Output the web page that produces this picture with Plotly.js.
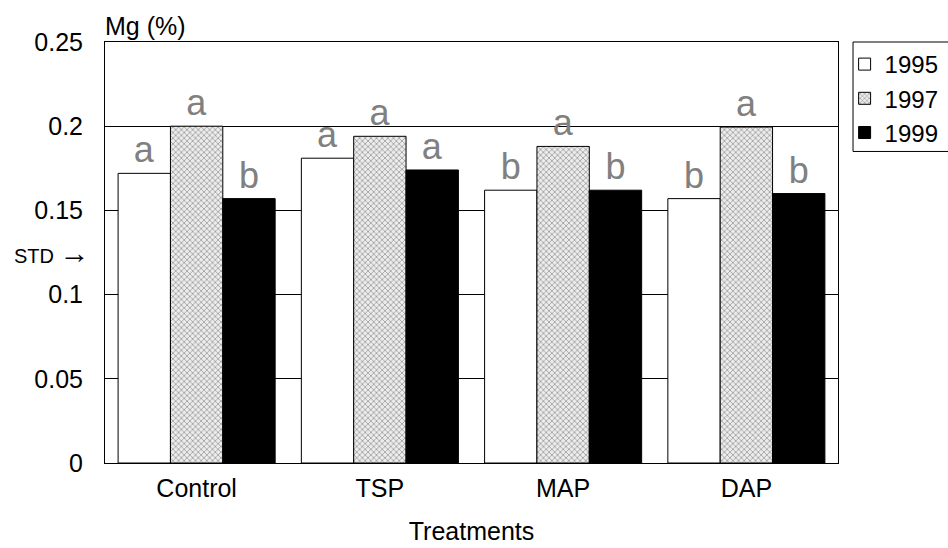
<!DOCTYPE html>
<html><head><meta charset="utf-8">
<script src="https://cdn.plot.ly/plotly-3.0.1.min.js"></script>
<style>body{margin:0;background:#fff}#chart{width:948px;height:548px}</style>
</head><body><div id="chart"></div>
<script>
const categories = ["Control", "TSP", "MAP", "DAP"];
const years = ["1995", "1997", "1999"];
const values1995 = [0.172, 0.181, 0.162, 0.157];
const values1997 = [0.200, 0.194, 0.188, 0.1995];
const values1999 = [0.157, 0.174, 0.162, 0.160];
const letters1995 = ["a", "a", "b", "b"];
const letters1997 = ["a", "a", "a", "a"];
const letters1999 = ["b", "a", "b", "b"];
const stdValue = 0.125;

const font = "Liberation Sans, Arial, sans-serif";
const common = {
  type: "bar", x: categories, textposition: "outside",
  textfont: {family: font, size: 36, color: "#808080"},
  cliponaxis: false, hoverinfo: "none"
};
const traces = [
  Object.assign({}, common, {name: years[0], y: values1995, text: letters1995,
    marker: {color: "#ffffff", line: {color: "#000", width: 1}}}),
  Object.assign({}, common, {name: years[1], y: values1997, text: letters1997,
    marker: {color: "#ffffff", line: {color: "#000", width: 1},
      pattern: {shape: "x", size: 4, solidity: 0.3, fgcolor: "#888888", bgcolor: "#ececec", fillmode: "replace"}}}),
  Object.assign({}, common, {name: years[2], y: values1999, text: letters1999,
    marker: {color: "#000000", line: {color: "#000", width: 1}}})
];
const layout = {
  width: 948, height: 548,
  margin: {l: 105, r: 110, t: 42, b: 85, autoexpand: false},
  paper_bgcolor: "#fff", plot_bgcolor: "#fff",
  font: {family: font, size: 25, color: "#000"},
  barmode: "group", bargap: 0.143, bargroupgap: 0,
  showlegend: true,
  legend: {x: 1.009, xanchor: "left", y: 1.0, yanchor: "top",
    borderwidth: 0, bgcolor: "rgba(0,0,0,0)", font: {size: 24},
    itemwidth: 30, tracegroupgap: 0},
  xaxis: {showline: true, linecolor: "#000", linewidth: 1, mirror: true, automargin: false,
    ticks: "", tickfont: {size: 25}, showgrid: false, ticklabelstandoff: 3,
    title: {text: "Treatments", font: {size: 25}, standoff: 21}},
  yaxis: {range: [0, 0.25], dtick: 0.05, tickformat: "", showline: true, automargin: false,
    linecolor: "#000", linewidth: 1, mirror: true, ticks: "",
    showgrid: true, gridcolor: "#000", gridwidth: 1, zeroline: false,
    tickfont: {size: 25}, ticklabelstandoff: 16},
  shapes: [
    {type: "rect", xref: "paper", yref: "paper", x0: 1.0205, x1: 1.2, y0: 0.74, y1: 1.0,
      line: {color: "#000", width: 1}, fillcolor: "rgba(0,0,0,0)", layer: "above"}
  ],
  annotations: [
    {text: "Mg (%)", xref: "paper", yref: "paper", x: 0, y: 1.0, xanchor: "left", yanchor: "bottom",
      xshift: -2, yshift: 0, showarrow: false, font: {size: 25}},
    {text: "STD <span style='font-size:30px'><b>\u2192</b></span>", xref: "paper", yref: "y", x: 0, y: stdValue, xanchor: "right", yanchor: "middle",
      xshift: -13, showarrow: false, font: {size: 20}}
  ]
};
Plotly.newPlot("chart", traces, layout, {displayModeBar: false, staticPlot: true});
</script></body></html>
